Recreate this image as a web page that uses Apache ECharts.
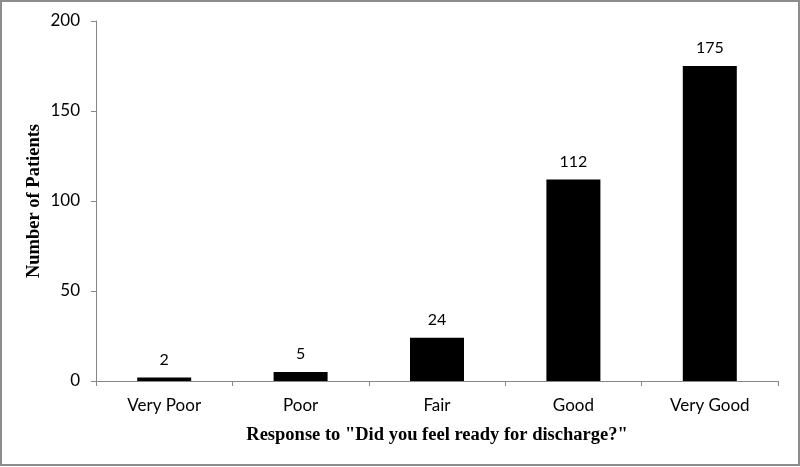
<!DOCTYPE html>
<html><head><meta charset="utf-8">
<script src="https://cdn.jsdelivr.net/npm/echarts@6/dist/echarts.min.js"></script>
<style>html,body{margin:0;padding:0;background:#fff}#c{width:800px;height:467px}</style>
</head><body><div id="c"></div>
<script>
const categories = ["Very Poor", "Poor", "Fair", "Good", "Very Good"];
const patients = [2, 5, 24, 112, 175];
const yTicks = [0, 50, 100, 150, 200];

const chart = echarts.init(document.getElementById('c'), null, {renderer: 'canvas'});
chart.setOption({
  animation: false,
  backgroundColor: '#fff',
  graphic: [{type: 'rect', shape: {x: 1, y: 1, width: 798, height: 464}, style: {fill: 'none', stroke: '#8c8c8c', lineWidth: 2}}],
  grid: {left: 96, right: 22, top: 21, bottom: 86},
  xAxis: {
    type: 'category', data: categories,
    axisLine: {lineStyle: {color: '#868686', width: 1}},
    axisTick: {show: true, alignWithLabel: false, length: 5, lineStyle: {color: '#868686'}},
    axisLabel: {color: '#000', fontFamily: 'Lato', fontSize: 17, margin: 16},
    name: 'Response to "Did you feel ready for discharge?"',
    nameLocation: 'middle', nameGap: 45, nameMoveOverlap: false,
    nameTextStyle: {color: '#000', fontFamily: 'Liberation Serif', fontWeight: 'bold', fontSize: 18.5}
  },
  yAxis: {
    type: 'value', min: yTicks[0], max: yTicks[yTicks.length - 1], interval: 50,
    axisLine: {show: true, lineStyle: {color: '#868686', width: 1}},
    axisTick: {show: true, length: 5, lineStyle: {color: '#868686'}},
    splitLine: {show: false},
    axisLabel: {color: '#000', fontFamily: 'Lato', fontSize: 17, margin: 16},
    name: 'Number of Patients', nameLocation: 'middle', nameGap: 52, nameMoveOverlap: false,
    nameTextStyle: {color: '#000', fontFamily: 'Liberation Serif', fontWeight: 'bold', fontSize: 18.5}
  },
  series: [{
    type: 'bar', data: patients, barWidth: 54,
    itemStyle: {color: '#000'},
    label: {show: true, position: 'top', distance: 10, color: '#000', fontFamily: 'Lato', fontSize: 16}
  }]
});
</script></body></html>
